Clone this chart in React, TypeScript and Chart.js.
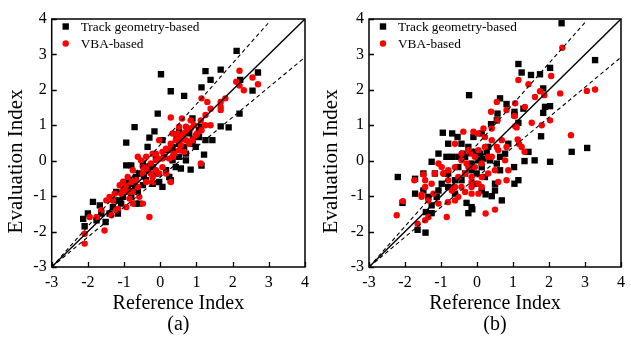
import React, { useEffect, useRef } from "react";
import { Chart, registerables } from "chart.js";

Chart.register(...registerables);

const axisTicks = [-3, -2, -1, 0, 1, 2, 3, 4];
const xTitle = "Reference Index";
const yTitle = "Evaluation Index";
const seriesNames = ["Track geometry-based", "VBA-based"];
const panelLabels = ["(a)", "(b)"];

const diagX = [-3, 4];
const diagY = [-3, 4];
const upperX = [-3, 3.0];
const upperY = [-3, 3.9];
const lowerX = [-3, 4];
const lowerY = [-3, 2.92];

// Panel (a)
const aTrack: number[][] = [
  [2.11, 3.1], [1.25, 2.53], [1.67, 2.57], [1.39, 2.28], [0.02, 2.44], [0.29, 1.96], [0.66, 1.83],
  [1.14, 2.07], [2.7, 2.49], [2.21, 2.28], [2.55, 1.98], [2.19, 1.33], [1.67, 0.97], [1.89, 0.94],
  [-0.07, 1.33], [-0.71, 0.95], [-0.94, 0.51], [0.89, 1.19], [-0.16, 0.83], [-0.35, 0.39],
  [-0.3, 0.65], [0.06, 0.58], [1.25, 0.58], [1.21, 0.17], [1.14, -0.14], [0.84, -0.25],
  [0.43, -0.18], [0.06, -0.74], [-0.03, -0.6], [-0.21, -0.65], [-0.94, -0.13], [-0.8, -0.13],
  [-2.13, -1.64], [-2.09, -1.85], [-2.0, -1.49], [-1.86, -1.16], [-1.51, -1.73], [-1.67, -1.26],
  [-1.22, -0.88], [-1.26, -1.12], [-1.31, -1.31], [-1.17, -1.49], [-0.99, -0.6], [-0.9, -0.74],
  [-0.76, -0.65], [-0.67, -0.46], [-0.58, -0.36], [-0.48, -0.69], [-0.62, -0.88], [-0.39, -0.55],
  [-0.12, -0.36], [-0.21, -0.18], [0.16, -0.27], [0.34, 0.01], [0.52, 0.11], [0.71, 0.01],
  [0.66, 0.39], [0.52, 0.48], [0.34, 0.39], [0.2, 0.3], [0.98, 0.39], [1.07, 0.67], [0.89, 0.48],
  [0.8, 0.77], [1.07, 0.86], [1.12, 0.96], [1.44, 0.58], [0.71, 0.2], [0.57, -0.22], [0.25, -0.46],
  [0.29, -0.55], [0.11, 0.11], [-0.12, 0.11], [-0.48, -0.08], [-0.35, -0.27], [-0.67, -1.21],
  [-0.8, -1.02], [-1.03, -1.02], [-1.08, -1.21], [-1.4, -1.49], [-1.63, -1.49], [-1.76, -1.68],
  [-1.12, -1.12], [-0.3, -0.16], [-0.58, -1.21], [0.38, 0.22], [0.52, 0.82], [-0.85, -0.55],
  [-1.0, -0.8], [-0.7, -0.75], [0.45, 0.6], [0.6, 0.3], [-0.45, -0.45], [0.9, 0.6],
];

const aVba: number[][] = [
  [2.19, 2.54], [2.55, 2.35], [2.7, 2.16], [2.1, 2.23], [2.19, 2.12], [2.31, 1.99], [1.8, 1.76],
  [1.67, 1.66], [1.67, 1.52], [1.67, 1.43], [1.3, 1.66], [1.14, 1.76], [1.39, 1.47], [1.25, 1.29],
  [1.39, 1.0], [1.24, 1.0], [1.12, 1.14], [1.14, 0.86], [0.93, 1.0], [0.84, 1.14], [0.6, 1.19],
  [0.29, 1.22], [1.12, -0.08], [0.66, 0.77], [0.52, 0.67], [0.43, 0.58], [0.29, 0.48], [0.16, 0.34],
  [0.06, 0.25], [-0.12, 0.2], [0.34, 0.77], [0.52, 0.96], [0.71, 0.58], [0.8, 0.48], [0.89, 0.58],
  [1.02, 0.77], [0.71, 0.81], [0.57, 0.44], [0.66, 0.25], [0.38, 0.2], [0.25, 0.34], [-0.03, 0.58],
  [-0.21, 0.2], [-0.39, 0.11], [-0.62, 0.11], [-0.48, -0.18], [-0.26, -0.36], [-0.12, -0.27],
  [0.06, -0.18], [0.16, -0.36], [0.29, -0.6], [-0.21, -0.6], [-0.39, -0.6], [-0.48, -0.36],
  [-0.67, -0.55], [-0.76, -0.27], [-0.9, -0.46], [-1.03, -0.6], [-1.12, -0.69], [-0.99, -0.74],
  [-0.9, -0.88], [-1.08, -0.93], [-0.85, -1.07], [-0.76, -0.88], [-0.62, -0.74], [-0.58, -1.02],
  [-0.48, -1.21], [-0.3, -1.59], [-0.76, -1.21], [-0.94, -1.31], [-1.17, -1.36], [-1.31, -1.12],
  [-1.26, -0.93], [-1.4, -1.02], [-1.49, -1.12], [-1.63, -1.4], [-1.76, -1.59], [-1.95, -1.59],
  [-2.09, -2.06], [-2.09, -2.34], [-1.54, -1.97], [-1.35, -1.54], [-1.22, -1.4], [-0.39, -0.22],
  [-0.26, -0.08], [-0.12, 0.01], [-0.03, 0.06], [0.06, 0.06], [0.25, 0.06], [0.34, 0.11],
  [0.52, 0.3], [0.48, 0.77], [0.71, 0.96], [0.84, 0.91], [0.98, 0.72], [-0.03, -0.36],
  [-0.21, -0.46], [-0.53, 0.01], [-0.95, -0.7], [-0.8, -0.6], [-1.05, -0.85], [0.6, 0.62],
];

// Panel (b)
const bTrack: number[][] = [
  [2.35, 3.88], [1.15, 2.73], [1.24, 2.49], [1.5, 2.42], [1.75, 2.44], [2.03, 2.62], [1.84, 2.04],
  [3.28, 2.84], [3.06, 0.36], [2.63, 0.25], [2.03, -0.03], [1.78, 0.69], [1.89, 1.52], [1.84, 1.35],
  [2.03, 1.54], [1.29, 1.47], [1.15, 1.07], [1.04, 1.38], [1.04, 1.29], [0.82, 1.6], [0.64, 1.76],
  [0.57, 1.33], [0.39, 1.03], [-0.22, 1.85], [1.43, 0.25], [1.32, -0.01], [1.6, 0.01], [1.03, -0.18],
  [1.04, -0.65], [1.15, -0.55], [0.64, -0.27], [0.69, -1.12], [0.5, -0.65], [0.5, -0.84],
  [0.22, -0.46], [0.24, -0.95], [0.41, -1.0], [0.13, -0.84], [-0.07, -0.65], [-0.15, -1.31],
  [-0.13, -1.37], [-0.24, -1.48], [-0.29, -1.19], [-0.61, -0.93], [-0.8, -0.74], [-0.89, -0.36],
  [-0.95, 0.79], [-0.69, 0.77], [-0.54, 0.67], [-0.8, 0.48], [-0.85, 0.11], [-1.07, 0.2],
  [-1.26, -0.03], [-1.49, -0.36], [-1.72, -0.51], [-2.2, -0.46], [-2.07, -1.19], [-1.72, -0.93],
  [-1.49, -0.84], [-1.35, -1.02], [-1.26, -1.26], [-1.26, -1.48], [-1.42, -1.45], [-1.43, -2.03],
  [-1.65, -1.95], [-1.12, -1.02], [-1.07, -0.84], [-0.7, 0.11], [-0.43, 0.48], [-0.38, 0.2],
  [-0.24, 0.39], [-0.15, -0.08], [-0.06, 0.25], [0.08, 0.2], [0.04, 0.01], [0.18, 0.06],
  [0.27, 0.25], [0.55, -0.08], [0.64, 0.11], [0.36, 0.01], [-0.19, -0.18], [-0.33, -0.36],
  [-0.52, -0.18], [-0.43, -0.55], [-0.61, -0.55], [-0.8, -0.36], [-0.98, -0.65], [-1.17, -0.36],
  [0.13, 0.77], [-0.1, 0.67], [0.31, 0.39], [0.55, 1.14], [0.78, 0.2], [0.87, 0.48], [-0.33, 0.11],
  [-0.52, 0.11], [-0.15, -0.27], [-0.01, -0.36], [0.13, -0.18],
];

const bVba: number[][] = [
  [2.37, 3.19], [1.15, 2.28], [1.43, 2.16], [2.06, 2.39], [1.75, 1.96], [1.87, 1.85], [1.61, 1.8],
  [2.31, 1.9], [3.05, 1.97], [3.28, 2.01], [2.61, 0.72], [2.03, 1.14], [1.8, 1.0], [1.52, 1.07],
  [1.33, 1.52], [1.06, 1.62], [0.82, 1.43], [0.55, 1.66], [0.39, 1.38], [0.57, 1.14], [0.41, 0.91],
  [1.04, 1.26], [1.06, 0.97], [0.69, 0.58], [0.82, 0.39], [1.13, 0.6], [1.17, 0.47], [1.24, 0.39],
  [1.32, 0.25], [1.1, 0.94], [0.78, 0.01], [0.82, -0.55], [0.59, -0.6], [0.5, -0.27], [0.5, -1.38],
  [0.24, -1.49], [0.18, 0.91], [0.02, 0.77], [-0.1, 0.82], [-0.38, 0.82], [-0.61, 0.48],
  [-0.43, 0.2], [-0.24, 0.3], [0.04, 0.3], [0.22, 0.39], [0.31, 0.11], [0.13, -0.08], [-0.06, -0.18],
  [-0.24, -0.18], [-0.43, 0.01], [-0.61, -0.18], [-0.8, -0.27], [-0.98, -0.18], [-1.17, -0.36],
  [-1.26, -0.65], [-1.44, -0.74], [-1.54, -1.02], [-1.35, -1.12], [-1.07, -1.21], [-0.84, -1.59],
  [-0.81, -1.17], [-0.61, -1.12], [-0.52, -1.02], [-0.33, -0.88], [-0.15, -0.74], [0.04, -0.65],
  [0.13, -0.74], [0.04, -0.93], [-0.15, -0.93], [-0.61, -0.74], [-0.8, -0.55], [-0.52, -0.46],
  [-0.33, -0.36], [0.31, -0.36], [-0.15, -0.46], [-1.35, -1.59], [-1.44, -1.68], [-1.65, -1.78],
  [-2.06, -1.14], [-2.23, -1.54], [-1.74, -0.55], [-1.49, -0.39], [-1.54, -0.96], [-0.94, -0.36],
  [-1.07, -0.08], [-0.29, -0.08], [0.41, 0.11], [0.55, 0.39], [0.41, 0.58], [0.22, 0.67],
  [0.59, 0.3], [-0.7, -0.84], [0.87, -0.27], [-0.06, 0.11], [-0.19, 0.2], [-0.43, -0.74],
  [-0.15, -0.6], [0.13, -0.46], [-1.44, -0.55], [-1.21, -0.93],
];

const toPoints = (pairs: number[][]) => pairs.map((p) => ({ x: p[0], y: p[1] }));
const toLine = (xs: number[], ys: number[]) => xs.map((x, i) => ({ x, y: ys[i] }));

const SERIF = "'Liberation Serif', 'Times New Roman', serif";

const framePlugin = {
  id: "frameTicksLegend",
  afterDatasetsDraw(chart: any) {
    const { ctx, chartArea, scales } = chart;
    const { left, right, top, bottom } = chartArea;
    ctx.save();
    ctx.strokeStyle = "#000";
    ctx.lineWidth = 1.3;
    ctx.beginPath();
    scales.x.ticks.forEach((t: any) => {
      const px = Math.round(scales.x.getPixelForValue(t.value)) + 0.5;
      ctx.moveTo(px, bottom);
      ctx.lineTo(px, bottom - 5);
    });
    scales.y.ticks.forEach((t: any) => {
      const py = Math.round(scales.y.getPixelForValue(t.value)) + 0.5;
      ctx.moveTo(left, py);
      ctx.lineTo(left + 5, py);
    });
    ctx.stroke();
    ctx.lineWidth = 1.5;
    ctx.strokeRect(left, top, right - left, bottom - top);

    // legend inside plot area
    const ds = chart.data.datasets;
    ctx.font = `13.3px ${SERIF}`;
    ctx.textBaseline = "middle";
    ctx.textAlign = "left";
    [0, 1].forEach((i) => {
      const d = ds[i];
      const cy = top + 7.5 + i * 17;
      const cx = left + 14;
      ctx.fillStyle = d.backgroundColor;
      ctx.beginPath();
      if (d.pointStyle === "rect") {
        ctx.rect(cx - 3.2, cy - 3.2, 6.4, 6.4);
      } else {
        ctx.arc(cx, cy, 3.2, 0, Math.PI * 2);
      }
      ctx.fill();
      ctx.fillStyle = "#000";
      ctx.fillText(d.label, left + 29, cy + 1);
    });
    ctx.restore();
  },
};

type PanelProps = {
  track: number[][];
  vba: number[][];
  label: string;
  width: number;
  yAxisWidth: number;
  padRight: number;
};

function Panel({ track, vba, label, width, yAxisWidth, padRight }: PanelProps) {
  const ref = useRef<HTMLCanvasElement | null>(null);
  useEffect(() => {
    if (!ref.current) return;
    const chart = new Chart(ref.current, {
      type: "scatter",
      data: {
        datasets: [
          {
            label: seriesNames[0],
            data: toPoints(track),
            pointStyle: "rect",
            pointRadius: 4.5,
            backgroundColor: "#000000",
            borderWidth: 0,
            order: 2,
          },
          {
            label: seriesNames[1],
            data: toPoints(vba),
            pointStyle: "circle",
            pointRadius: 3.2,
            backgroundColor: "#ff0000",
            borderWidth: 0,
            order: 1,
          },
          {
            label: "y=x",
            data: toLine(diagX, diagY),
            showLine: true,
            pointRadius: 0,
            borderColor: "#000",
            borderWidth: 1.4,
            order: 0,
          },
          {
            label: "upper",
            data: toLine(upperX, upperY),
            showLine: true,
            pointRadius: 0,
            borderColor: "#000",
            borderWidth: 1.1,
            borderDash: [4, 3],
            order: 0,
          },
          {
            label: "lower",
            data: toLine(lowerX, lowerY),
            showLine: true,
            pointRadius: 0,
            borderColor: "#000",
            borderWidth: 1.1,
            borderDash: [4, 3],
            order: 0,
          },
        ] as any,
      },
      options: {
        animation: false,
        responsive: false,
        events: [],
        layout: { padding: { left: 0, right: padRight, top: 19, bottom: 0 } },
        plugins: {
          legend: { display: false },
          tooltip: { enabled: false },
          title: { display: false },
        },
        scales: {
          x: {
            type: "linear",
            min: -3,
            max: 4,
            afterBuildTicks: (s: any) => {
              s.ticks = axisTicks.map((v) => ({ value: v }));
            },
            afterFit: (s: any) => {
              s.height = 70;
            },
            grid: { display: false, drawTicks: false },
            border: { display: false },
            ticks: {
              padding: 6,
              color: "#000",
              font: { family: SERIF, size: 16 },
              maxRotation: 0,
            },
            title: {
              display: true,
              text: [xTitle, label],
              color: "#000",
              font: { family: SERIF, size: 20, lineHeight: 1.05 },
              padding: { top: 0, bottom: 1.5 },
            },
          },
          y: {
            type: "linear",
            min: -3,
            max: 4,
            afterBuildTicks: (s: any) => {
              s.ticks = axisTicks.map((v) => ({ value: v }));
            },
            afterFit: (s: any) => {
              s.width = yAxisWidth;
            },
            grid: { display: false, drawTicks: false },
            border: { display: false },
            ticks: {
              padding: 5,
              color: "#000",
              font: { family: SERIF, size: 16 },
            },
            title: {
              display: true,
              text: yTitle + "       ",
              color: "#000",
              font: { family: SERIF, size: 21, lineHeight: 1.2 },
              padding: { top: 4, bottom: 0 },
            },
          },
        },
      } as any,
      plugins: [framePlugin],
    });
    return () => chart.destroy();
  }, [track, vba, label, width, yAxisWidth, padRight]);
  return <canvas ref={ref} width={width} height={337} style={{ display: "block", width, height: 337 }} />;
}

export default function App() {
  return (
    <div
      style={{
        position: "fixed",
        left: 0,
        top: 0,
        width: 631,
        height: 337,
        background: "#fff",
      }}
    >
      <div style={{ position: "absolute", left: 0, top: 0 }}>
        <Panel track={aTrack} vba={aVba} label={panelLabels[0]} width={315} yAxisWidth={51.7} padRight={8.3} />
      </div>
      <div style={{ position: "absolute", left: 315, top: 0 }}>
        <Panel track={bTrack} vba={bVba} label={panelLabels[1]} width={316} yAxisWidth={54} padRight={10} />
      </div>
    </div>
  );
}
